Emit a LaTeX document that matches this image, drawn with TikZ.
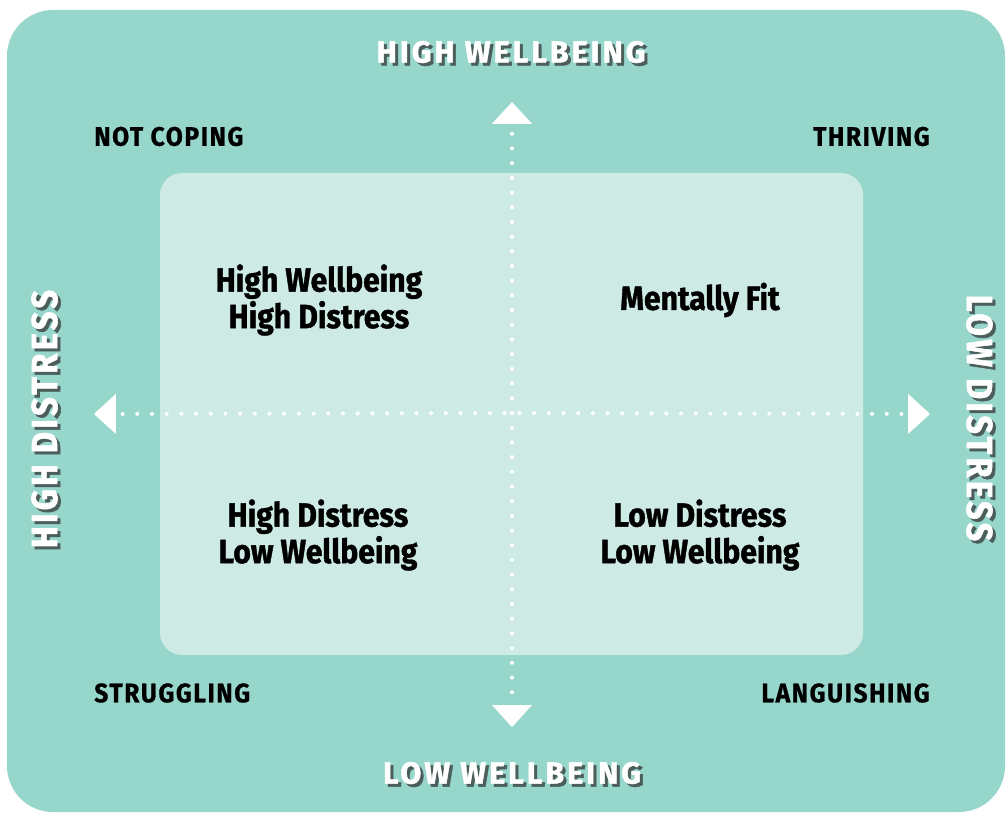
\documentclass[tikz,border=0pt]{standalone}
\usepackage{fontspec}
\setmainfont{Fira Sans}
\newfontfamily\quadfont[FakeStretch=0.9,FakeBold=1.2]{Fira Sans}
\newfontfamily\capsfont[LetterSpace=10,FakeBold=1.5]{Fira Sans}
\newfontfamily\cornerfont[LetterSpace=6,FakeStretch=0.92,FakeBold=0.8]{Fira Sans}
\newfontfamily\sidefont[FakeStretch=0.9,LetterSpace=9,FakeBold=1.5]{Fira Sans}
\usetikzlibrary{arrows.meta,positioning}
\definecolor{outerteal}{RGB}{151,214,203}
\definecolor{innerteal}{RGB}{206,234,229}
\definecolor{shadowgrey}{RGB}{76,94,91}

\begin{document}
\begin{tikzpicture}[x=0.025cm, y=-0.025cm,
    axis/.style={white, line width=2.85pt, line cap=round, dash pattern=on 0pt off 10.45pt,
      -{Triangle[length=15.6pt, width=28.5pt, line width=0pt]}},
    quad/.style={align=center, inner sep=0pt, font=\quadfont\bfseries\fontsize{23.8}{26}\selectfont},
    head/.style={inner sep=0pt, font=\capsfont\bfseries\fontsize{21.6}{24}\selectfont, text=white},
    side/.style={inner sep=0pt, font=\sidefont\bfseries\fontsize{25.8}{28}\selectfont, text=white},
    corner/.style={inner sep=0pt, font=\cornerfont\bfseries\fontsize{19}{22}\selectfont},
    shade/.style={text=shadowgrey}]

    \useasboundingbox (0,0) rectangle (1006,813);

    % background panels
    \fill[outerteal, rounded corners=1.15cm] (7,10) rectangle (1005,812);
    \fill[innerteal, rounded corners=0.55cm] (160,173) rectangle (863,655);

    % axes
    \coordinate (C) at (512,413);
    \coordinate (N) at (512,102);
    \coordinate (S) at (512,727);
    \coordinate (W) at (94,414);
    \coordinate (E) at (930,414);
    \draw[axis] (C) -- (N);
    \draw[axis] (C) -- (S);
    \draw[axis, dash phase=5.2pt] (C) -- (W);
    \draw[axis, dash phase=5.2pt] (C) -- (E);

    % axis titles (shadow first)
    \node[head, shade] (HWs) at (514,55) {HIGH WELLBEING};
    \node[head] (HW) at (511,52) {HIGH WELLBEING};
    \node[head, shade] (LWs) at (515,776) {LOW WELLBEING};
    \node[head] (LW) at (512,773) {LOW WELLBEING};
    \node[side, shade, rotate=90] (HDs) at (47.5,422) {HIGH DISTRESS};
    \node[side, rotate=90] (HD) at (44.5,419) {HIGH DISTRESS};
    \node[side, shade, rotate=-90] (LDs) at (982.5,421) {LOW DISTRESS};
    \node[side, rotate=-90] (LD) at (979.5,418) {LOW DISTRESS};

    % corners
    \node[corner, anchor=west] (NC) at (94,136.5) {NOT COPING};
    \node[corner, anchor=east] (TH) at (930,136.5) {THRIVING};
    \node[corner, anchor=west] (ST) at (94,693) {STRUGGLING};
    \node[corner, anchor=east] (LG) at (930,693) {LANGUISHING};

    % quadrants
    \node[quad] (Q1) at (319,300) {High Wellbeing\\High Distress};
    \node[quad] (Q2) at (700,300) {Mentally Fit};
    \node[quad] (Q3) at (318,535) {High Distress\\Low Wellbeing};
    \node[quad] (Q4) at (700,535) {Low Distress\\Low Wellbeing};

\end{tikzpicture}
\end{document}
